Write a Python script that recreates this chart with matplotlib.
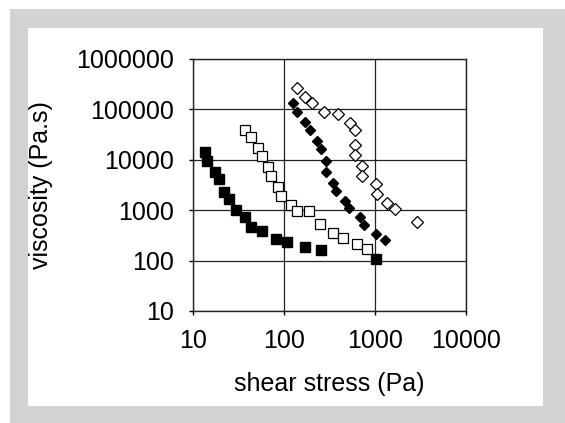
import matplotlib
matplotlib.use("Agg")
import matplotlib.pyplot as plt
from matplotlib.patches import Rectangle

plt.rcParams["font.family"] = ["Liberation Sans", "DejaVu Sans"]

# filled squares
sq_fill_x = [13.6, 14.3, 17.5, 19.3, 21.9, 24.9, 29.7, 37.3, 43.4, 57.3, 81.7, 108, 170, 255, 1026]
sq_fill_y = [14300, 9460, 5730, 4160, 2300, 1670, 1010, 733, 464, 387, 268, 234, 186, 162, 108]

# open squares
sq_open_x = [37.3, 43.4, 51.8, 57.3, 66.7, 72.0, 85.9, 92.7, 119, 139, 188, 249, 345, 445, 634, 817]
sq_open_y = [39000, 28300, 17100, 11900, 7200, 4770, 2890, 1910, 1270, 964, 964, 532, 353, 281, 213, 170]

# filled diamonds
dm_fill_x = [126, 139, 170, 193, 231, 255, 290, 290, 345, 373, 468, 518, 684, 757, 1026, 1288]
dm_fill_y = [134000, 88800, 56200, 39000, 23600, 16400, 9460, 5730, 3470, 2400, 1520, 1110, 733, 508, 337, 256]

# open diamonds
dm_open_x = [139, 170, 203, 275, 392, 531, 603, 603, 603, 720, 720, 1026, 1052, 1355, 1660, 2900]
dm_open_y = [266000, 176000, 134000, 88800, 81000, 53700, 39000, 19700, 12400, 7530, 4770, 3310, 2100, 1390, 1060, 583]

x_ticks = [10, 100, 1000, 10000]
y_ticks = [10, 100, 1000, 10000, 100000, 1000000]

fig = plt.figure(figsize=(5.65, 4.23), dpi=100)
fig.patch.set_facecolor("white")
# grey frame and white panel
fig.add_artist(Rectangle((10 / 565, 0), 555 / 565, 414 / 423,
                         transform=fig.transFigure, facecolor="#d1d3d4",
                         edgecolor="none", zorder=-2))
fig.add_artist(Rectangle((28 / 565, 17 / 423), 515 / 565, 378 / 423,
                         transform=fig.transFigure, facecolor="white",
                         edgecolor="none", zorder=-1))

ax = fig.add_axes([193 / 565, 1 - 311 / 423, 273 / 565, 252 / 423])
ax.set_facecolor("none")
ax.set_xscale("log")
ax.set_yscale("log")
ax.set_xlim(10, 10000)
ax.set_ylim(10, 1000000)

ax.plot(sq_fill_x, sq_fill_y, ls="none", marker="s", ms=6.5, mfc="black", mec="black", clip_on=False)
ax.plot(sq_open_x, sq_open_y, ls="none", marker="s", ms=7, mfc="white", mec="black", mew=0.9, clip_on=False)
ax.plot(dm_fill_x, dm_fill_y, ls="none", marker="D", ms=5.5, mfc="black", mec="black", clip_on=False)
ax.plot(dm_open_x, dm_open_y, ls="none", marker="D", ms=6, mfc="white", mec="black", mew=0.9, clip_on=False)

ax.set_xticks(x_ticks)
ax.set_xticklabels([str(v) for v in x_ticks])
ax.set_yticks(y_ticks)
ax.set_yticklabels([str(v) for v in y_ticks])
ax.minorticks_off()
ax.tick_params(axis="both", labelsize=18, length=3, width=1, direction="out")
ax.tick_params(axis="x", pad=10)
ax.tick_params(axis="y", pad=11)
ax.grid(True, color="#222222", lw=0.9)
ax.set_axisbelow(True)
for s in ax.spines.values():
    s.set_linewidth(1)
    s.set_color("#222222")

ax.set_xlabel("shear stress (Pa)", fontsize=18, labelpad=14)
ax.set_ylabel("viscosity (Pa.s)", fontsize=18, labelpad=16)

fig.savefig("out.png", dpi=100)
